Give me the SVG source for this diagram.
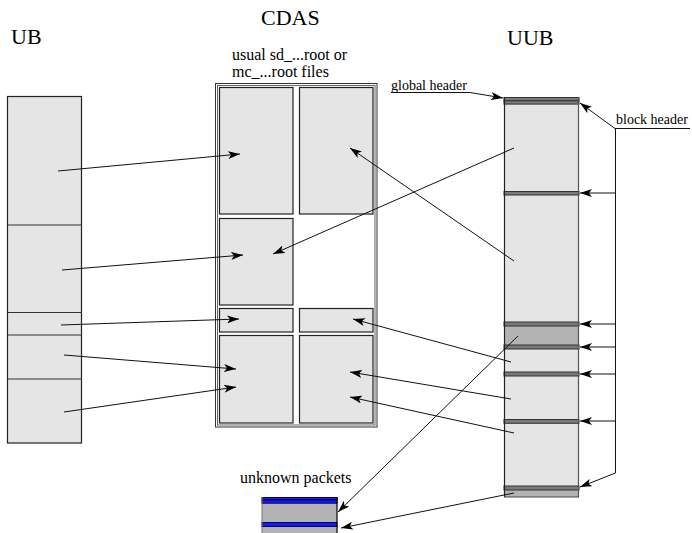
<svg xmlns="http://www.w3.org/2000/svg" width="692" height="533" viewBox="0 0 692 533">
<style>
.big{font-size:22px}
.mid{font-size:16px}
.sm{font-size:14px}
.cell{fill:#e5e5e5;stroke:#222;stroke-width:1.2}
.div{stroke:#333;stroke-width:1.2;fill:none}
.hdr{fill:#7a7a7a;stroke:#333;stroke-width:1}
.med{fill:#b3b3b3}
.bhdr{fill:#1a1aee;stroke:#000066;stroke-width:1}
.con{stroke:#111;stroke-width:1;fill:none}
.conA{stroke:#111;stroke-width:1;fill:none;marker-end:url(#ah)}
</style>
<defs>
<marker id="ah" viewBox="0 0 12 8" refX="12" refY="4" markerWidth="12" markerHeight="8" markerUnits="userSpaceOnUse" orient="auto">
<path d="M0,0 L12,4 L0,8 L3,4 z" fill="#000"/>
</marker>
</defs>
<rect width="692" height="533" fill="#fff"/>

<g font-family="'Liberation Serif', 'DejaVu Serif', serif" fill="#000">
<g id="title-ub"><text class="big" x="11" y="44">UB</text></g>
<g id="title-cdas"><text class="big" x="261" y="25">CDAS</text></g>
<g id="title-uub"><text class="big" x="507" y="45">UUB</text></g>
</g>

<g id="ub">
<rect class="cell" x="7.5" y="96.5" width="74" height="346.5"/>
<line class="div" x1="7.5" y1="225" x2="81.5" y2="225"/>
<line class="div" x1="7.5" y1="312.5" x2="81.5" y2="312.5"/>
<line class="div" x1="7.5" y1="335" x2="81.5" y2="335"/>
<line class="div" x1="7.5" y1="379" x2="81.5" y2="379"/>
</g>

<g id="cdas">
<g font-family="'Liberation Serif', 'DejaVu Serif', serif" fill="#000">
<text class="mid" x="232" y="60">usual sd_...root or</text>
<text class="mid" x="232" y="77">mc_...root files</text>
</g>
<rect x="215.5" y="83.5" width="161.5" height="343.5" fill="#fff" stroke="#333" stroke-width="1"/>
<rect x="217.5" y="85.5" width="157.5" height="339.5" fill="none" stroke="#666" stroke-width="1"/>
<rect class="cell" x="219.5" y="87.5" width="73.5" height="126.5"/>
<rect class="cell" x="299.5" y="87.5" width="73.5" height="126.5"/>
<rect class="cell" x="219.5" y="218.5" width="73.5" height="86.5"/>
<rect class="cell" x="219.5" y="308.5" width="73.5" height="23.5"/>
<rect class="cell" x="299.5" y="308.5" width="73.5" height="23.5"/>
<rect class="cell" x="219.5" y="335.5" width="73.5" height="87.5"/>
<rect class="cell" x="299.5" y="335.5" width="73.5" height="87.5"/>
</g>

<g id="uub">
<rect x="504" y="97" width="75" height="400" fill="#e5e5e5"/>
<rect class="med" x="504" y="326" width="75" height="19"/>
<rect class="med" x="504" y="490" width="75" height="7"/>
<rect class="hdr" x="504" y="97.5" width="75" height="3.3"/>
<rect class="hdr" x="504" y="100.8" width="75" height="3.3"/>
<rect class="hdr" x="504" y="191.5" width="75" height="3.5"/>
<rect class="hdr" x="504" y="322" width="75" height="4"/>
<rect class="hdr" x="504" y="345" width="75" height="4"/>
<rect class="hdr" x="504" y="372" width="75" height="4"/>
<rect class="hdr" x="504" y="419.5" width="75" height="3.8"/>
<rect class="hdr" x="504" y="486" width="75" height="4"/>
<line x1="504.5" y1="97" x2="504.5" y2="497" stroke="#222" stroke-width="1.2"/>
<line x1="578.5" y1="97" x2="578.5" y2="497" stroke="#555" stroke-width="1.2"/>
<line x1="504" y1="497" x2="579" y2="497" stroke="#444" stroke-width="1"/>
</g>

<g id="unknown-packets">
<text class="mid" x="240" y="483" font-family="'Liberation Serif', 'DejaVu Serif', serif" fill="#000">unknown packets</text>
<rect class="med" x="262" y="497" width="75" height="36"/>
<rect class="bhdr" x="262" y="497.5" width="75" height="2.5"/>
<rect class="bhdr" x="262" y="500" width="75" height="3.2"/>
<rect class="bhdr" x="262" y="522.5" width="75" height="4"/>
<line x1="337" y1="497" x2="337" y2="533" stroke="#000" stroke-width="1.2"/>
<line x1="262" y1="497" x2="262" y2="533" stroke="#777" stroke-width="1"/>
</g>

<g id="header-labels" font-family="'Liberation Serif', 'DejaVu Serif', serif" fill="#000">
<text class="sm" x="391" y="90">global header</text>
<text class="sm" x="616" y="124">block header</text>
</g>

<g id="connectors">
<line class="conA" x1="58" y1="171" x2="240" y2="154"/>
<line class="conA" x1="62" y1="270" x2="243" y2="255"/>
<line class="conA" x1="61" y1="325" x2="239" y2="319"/>
<line class="conA" x1="64" y1="355" x2="236" y2="369"/>
<line class="conA" x1="64" y1="412" x2="236" y2="387"/>

<line class="conA" x1="514" y1="261" x2="350" y2="148"/>
<line class="conA" x1="514" y1="148" x2="273" y2="254"/>
<line class="conA" x1="511" y1="362" x2="353" y2="319"/>
<line class="conA" x1="511" y1="399" x2="350" y2="372"/>
<line class="conA" x1="514" y1="433" x2="350" y2="397"/>
<line class="conA" x1="518" y1="336" x2="338" y2="512"/>
<line class="conA" x1="514" y1="493" x2="341" y2="528"/>

<polyline class="conA" points="391,92.5 470,92.5 503,98"/>
<line class="con" x1="615" y1="128.5" x2="690" y2="128.5"/>
<line class="conA" x1="615" y1="128.5" x2="580" y2="103"/>
<line class="con" x1="615.5" y1="128" x2="615.5" y2="473"/>
<line class="conA" x1="615.5" y1="193" x2="580" y2="193"/>
<line class="conA" x1="615.5" y1="324" x2="580" y2="324"/>
<line class="conA" x1="615.5" y1="347" x2="580" y2="347"/>
<line class="conA" x1="615.5" y1="374" x2="580" y2="374"/>
<line class="conA" x1="615.5" y1="421" x2="580" y2="421"/>
<line class="conA" x1="615.5" y1="473" x2="580" y2="487"/>
</g>
</svg>
